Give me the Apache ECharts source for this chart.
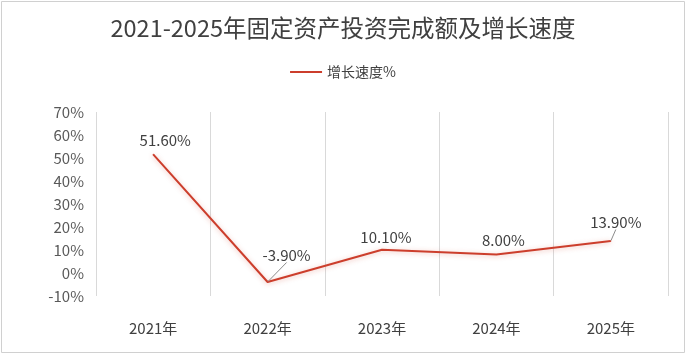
<!DOCTYPE html>
<html><head><meta charset="utf-8">
<script src="https://cdn.jsdelivr.net/npm/echarts@6/dist/echarts.min.js"></script>
<style>html,body{margin:0;padding:0;background:#fff}#c{width:686px;height:364px}</style>
</head><body><div id="c"></div>
<script>
var categories = ['2021年','2022年','2023年','2024年','2025年'];
var growth = [51.6, -3.9, 10.1, 8.0, 13.9];
var yTicks = [-10, 70, 10];
var labelShift = [[12,0],[19,-13],[4,2],[7,0],[5,-5]];
var leaderShown = [false, true, false, false, true];

var FONT = '"Noto Sans CJK SC", "Microsoft YaHei", sans-serif';
var seriesData = growth.map(function(v, i){
  return {value: v, labelLine: {show: leaderShown[i], lineStyle:{color:'#8c8c8c', width:1}}};
});
var chart = echarts.init(document.getElementById('c'));
chart.setOption({
  backgroundColor: '#fff',
  textStyle: {fontFamily: FONT},
  graphic: [{type:'rect', shape:{x:1.5,y:1.5,width:683,height:351}, style:{fill:'none', stroke:'#d0d0d0', lineWidth:1}, silent:true, z:-1}],
  title: {text:'2021-2025年固定资产投资完成额及增长速度', left:'center', top:11,
    textStyle:{fontSize:23.5, fontWeight:'normal', color:'#404040', fontFamily:FONT}},
  legend: {top:60, left:'center', itemWidth:32, itemHeight:10, itemGap:6,
    textStyle:{fontSize:14, color:'#404040', fontFamily:FONT},
    data:[{name:'增长速度%', icon:'path://M0,4 L32,4 L32,6 L0,6 Z'}]},
  grid: {left:96, right:18, top:112, bottom:68},
  xAxis: {type:'category', data:categories, boundaryGap:true,
    axisLine:{show:false}, axisTick:{show:false},
    splitLine:{show:true, lineStyle:{color:'#d9d9d9', width:1}},
    axisLabel:{margin:25, fontSize:15, color:'#404040', fontFamily:FONT}},
  yAxis: {type:'value', min:yTicks[0], max:yTicks[1], interval:yTicks[2],
    axisLine:{show:false}, axisTick:{show:false}, splitLine:{show:false},
    axisLabel:{formatter:'{value}%', fontSize:15, color:'#595959', margin:12, fontFamily:FONT}},
  series: [{
    name:'增长速度%', type:'line', data:seriesData, symbol:'circle', symbolSize:1, showSymbol:true,
    lineStyle:{color:'#cc3e2c', width:2, shadowColor:'rgba(210,70,50,0.35)', shadowBlur:5, shadowOffsetY:1},
    itemStyle:{color:'#cc3e2c'},
    label:{show:true, position:'top', distance:6, fontSize:15, color:'#404040', fontFamily:FONT,
      formatter:function(p){return p.value.toFixed(2)+'%';}},
    labelLayout:function(p){var s=labelShift[p.dataIndex]; return {dx:s[0], dy:s[1]};}
  }]
});
</script></body></html>
